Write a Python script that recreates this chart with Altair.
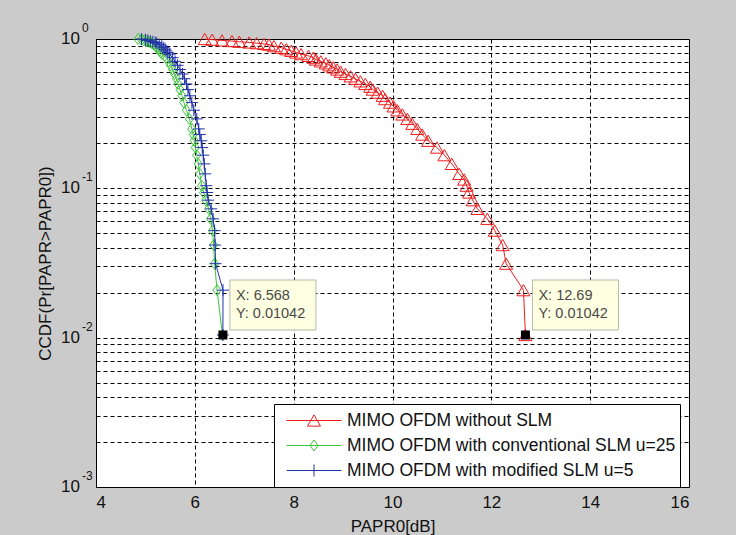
import altair as alt
import pandas as pd

# ---- data ----
series_names = [
    "MIMO OFDM without SLM",
    "MIMO OFDM with conventional SLM u=25",
    "MIMO OFDM with modified SLM u=5",
]
series_colors = ["#ee1c1c", "#3cc43c", "#2233a8"]

red_x = [6.20, 6.35, 6.55, 6.75, 6.90, 7.10, 7.25, 7.40, 7.50,
         7.60, 7.75, 7.85, 7.95, 8.05, 8.15, 8.30, 8.40, 8.45, 8.55,
         8.65, 8.72, 8.80, 8.88, 8.95, 9.05, 9.15, 9.25, 9.35, 9.45,
         9.55, 9.60, 9.70, 9.80, 9.85, 9.95, 10.02, 10.10, 10.20, 10.30,
         10.40, 10.50, 10.60, 10.72, 10.90, 11.05, 11.20, 11.35, 11.45, 11.50,
         11.55, 11.62, 11.72, 11.92, 12.07, 12.23, 12.30, 12.65, 12.69]
red_p = [1.0, 0.9896, 0.9792, 0.9688, 0.9583, 0.9479, 0.9375, 0.9271, 0.9167,
         0.8958, 0.875, 0.8542, 0.8333, 0.8125, 0.7917, 0.7708, 0.75, 0.7292, 0.7083,
         0.6875, 0.6667, 0.6458, 0.625, 0.6042, 0.5833, 0.5625, 0.5417, 0.5208, 0.5,
         0.4792, 0.4583, 0.4375, 0.4167, 0.3958, 0.375, 0.3542, 0.3333, 0.3125, 0.2917,
         0.2708, 0.25, 0.2292, 0.2083, 0.1875, 0.1667, 0.1458, 0.125, 0.1146, 0.1042,
         0.0938, 0.0833, 0.0729, 0.0625, 0.0521, 0.0417, 0.0313, 0.0208, 0.01042]

green_x = [4.85, 4.92, 4.97, 5.02, 5.06, 5.10, 5.13,
           5.17, 5.21, 5.24, 5.27, 5.29, 5.31, 5.34,
           5.42, 5.47, 5.51, 5.55, 5.59, 5.63, 5.66, 5.70, 5.74, 5.78,
           5.83, 5.89, 5.94, 5.97, 5.99, 6.01, 6.04, 6.07, 6.10, 6.14,
           6.18, 6.22, 6.28, 6.32, 6.36, 6.38, 6.40, 6.45, 6.56]
green_p = [1.0, 0.9896, 0.9792, 0.9688, 0.9583, 0.9479, 0.9375,
           0.9167, 0.8958, 0.875, 0.8542, 0.8333, 0.8125, 0.7917,
           0.75, 0.7083, 0.6667, 0.625, 0.5833, 0.5417, 0.5, 0.4583, 0.4167, 0.375,
           0.3333, 0.2917, 0.25, 0.2292, 0.2083, 0.1875, 0.1667, 0.1458, 0.125, 0.1042,
           0.0938, 0.0833, 0.0729, 0.0625, 0.0521, 0.0417, 0.0313, 0.0208, 0.01042]

blue_x = [4.92, 5.00, 5.05, 5.10, 5.15, 5.20, 5.23,
          5.28, 5.33, 5.37, 5.40, 5.42, 5.45, 5.49,
          5.55, 5.60, 5.65, 5.70, 5.75, 5.79, 5.83, 5.86, 5.90, 5.94,
          5.98, 6.04, 6.08, 6.10, 6.13, 6.15, 6.17, 6.19, 6.21, 6.23,
          6.25, 6.27, 6.33, 6.37, 6.40, 6.41, 6.42, 6.57, 6.568]
blue_p = [1.0, 0.9896, 0.9792, 0.9688, 0.9583, 0.9479, 0.9375,
          0.9167, 0.8958, 0.875, 0.8542, 0.8333, 0.8125, 0.7917,
          0.75, 0.7083, 0.6667, 0.625, 0.5833, 0.5417, 0.5, 0.4583, 0.4167, 0.375,
          0.3333, 0.2917, 0.25, 0.2292, 0.2083, 0.1875, 0.1667, 0.1458, 0.125, 0.1042,
          0.0938, 0.0833, 0.0729, 0.0625, 0.0521, 0.0417, 0.0313, 0.0208, 0.01042]

tip_x = [6.568, 12.69]
tip_p = [0.01042, 0.01042]
tip_line1 = ["X: 6.568", "X: 12.69"]
tip_line2 = ["Y: 0.01042", "Y: 0.01042"]

x_ticks = [4, 6, 8, 10, 12, 14, 16]
y_grid = [0.001, 0.002, 0.003, 0.004, 0.005, 0.006, 0.007, 0.008, 0.009,
          0.01, 0.02, 0.03, 0.04, 0.05, 0.06, 0.07, 0.08, 0.09,
          0.1, 0.2, 0.3, 0.4, 0.5, 0.6, 0.7, 0.8, 0.9, 1.0]
y_decades = [1.0, 0.1, 0.01, 0.001]
y_exponents = ["0", "-1", "-2", "-3"]

# marker paths
tri = "triangle-up"
diamond = "M0,-1L0.75,0L0,1L-0.75,0Z"
plus = "M-1,0H1M0,-1V1"
legend_paths = [
    "M-1,0H1M-0.236,0.205L0,-0.205L0.236,0.205Z",
    "M-1,0H1M0,-0.2L0.15,0L0,0.2L-0.15,0Z",
    "M-1,0H1M0,-0.218V0.218",
]

# ---- tables ----
rows = []
for name, xs, ps in zip(series_names, [red_x, green_x, blue_x], [red_p, green_p, blue_p]):
    for i, (xv, pv) in enumerate(zip(xs, ps)):
        rows.append({"series": name, "x": xv, "p": pv, "idx": i})
df = pd.DataFrame(rows)

tips = pd.DataFrame({"x": tip_x, "p": tip_p, "l1": tip_line1, "l2": tip_line2})
ylab = pd.DataFrame({"x": [x_ticks[0]] * len(y_decades), "p": y_decades,
                     "base": ["10"] * len(y_decades), "ex": y_exponents})
legend_df = pd.DataFrame({"series": series_names,
                          "x": [red_x[0], green_x[0], blue_x[0]],
                          "p": [red_p[0], green_p[0], blue_p[0]]})

FONT = "Liberation Sans"
X = alt.X("x:Q", scale=alt.Scale(domain=[4, 16], nice=False, zero=False),
          axis=alt.Axis(values=x_ticks, title="PAPR0[dB]", grid=True, ticks=False,
                        domain=False, labelFontSize=17, labelPadding=7,
                        titleFontSize=17, titleFontWeight="normal", titlePadding=8,
                        gridDash=[4, 3], gridColor="#000000", gridOpacity=1,
                        labelFont=FONT, titleFont=FONT))
Y = alt.Y("p:Q", scale=alt.Scale(type="log", domain=[0.001, 1], nice=False),
          axis=alt.Axis(values=y_grid, title="CCDF(Pr[PAPR>PAPR0])", grid=True,
                        ticks=False, labels=False, domain=False,
                        titleFontSize=17, titleFontWeight="normal", titlePadding=42,
                        gridDash=[4, 3], gridColor="#000000", gridOpacity=1,
                        titleFont=FONT))

layers = []
shapes = [tri, diamond, plus]
sizes = [169, 121, 144]
for name, col, shp, sz in zip(series_names, series_colors, shapes, sizes):
    d = df[df.series == name]
    layers.append(alt.Chart(d).mark_line(color=col, strokeWidth=1).encode(x=X, y=Y, order="idx:Q"))
    layers.append(alt.Chart(d).mark_point(shape=shp, size=sz, filled=False, color=col,
                                          strokeWidth=1, opacity=1).encode(x=X, y=Y))

# legend layer (invisible marks, visible legend)
leg = alt.Legend(orient="none", legendX=178, legendY=365, fillColor="white",
                 strokeColor="black", padding=4, clipHeight=25, rowPadding=0,
                 symbolSize=3025, symbolStrokeWidth=1, symbolOffset=8, labelOffset=5,
                 labelFontSize=17.5, labelFont=FONT, labelColor="#111111",
                 labelLimit=600, symbolOpacity=1)
layers.append(alt.Chart(legend_df).mark_point(filled=False, opacity=0, size=3025, strokeWidth=1).encode(
    x=X, y=Y,
    color=alt.Color("series:N", title=None, legend=leg,
                    scale=alt.Scale(domain=series_names, range=series_colors)),
    shape=alt.Shape("series:N", title=None, legend=leg,
                    scale=alt.Scale(domain=series_names, range=legend_paths)),
))

# y tick labels 10^k
layers.append(alt.Chart(ylab).mark_text(align="right", baseline="middle", dx=-16, fontSize=17,
                                        font=FONT, color="#111111").encode(x=X, y=Y, text="base:N"))
layers.append(alt.Chart(ylab).mark_text(align="left", baseline="middle", dx=-14, dy=-11, fontSize=12,
                                        font=FONT, color="#111111").encode(x=X, y=Y, text="ex:N"))

# data tips
layers.append(alt.Chart(tips).mark_rect(fill="#ffffe1", stroke="#b8b8a8", strokeWidth=1,
                                        xOffset=7, x2Offset=93, yOffset=-55, y2Offset=-5).encode(
    x=X, x2=alt.X2("x"), y=Y, y2=alt.Y2("p")))
layers.append(alt.Chart(tips).mark_text(align="left", baseline="middle", dx=13, dy=-39, fontSize=14.5,
                                        font=FONT, color="#4a4a4a").encode(x=X, y=Y, text="l1:N"))
layers.append(alt.Chart(tips).mark_text(align="left", baseline="middle", dx=13, dy=-21, fontSize=14.5,
                                        font=FONT, color="#4a4a4a").encode(x=X, y=Y, text="l2:N"))
layers.append(alt.Chart(tips).mark_square(size=81, color="black", opacity=1).encode(x=X, y=Y))

chart = alt.layer(*layers).properties(
    width=593, height=448, autosize="none",
    padding={"left": 96, "top": 39, "right": 47, "bottom": 48},
    background="#cbcbcb",
).configure_view(stroke="black", strokeWidth=1, fill="white").configure_axis(
    labelColor="#111111", titleColor="#111111"
)

chart.save("out.html", embed_options={"renderer": "svg", "actions": False})
